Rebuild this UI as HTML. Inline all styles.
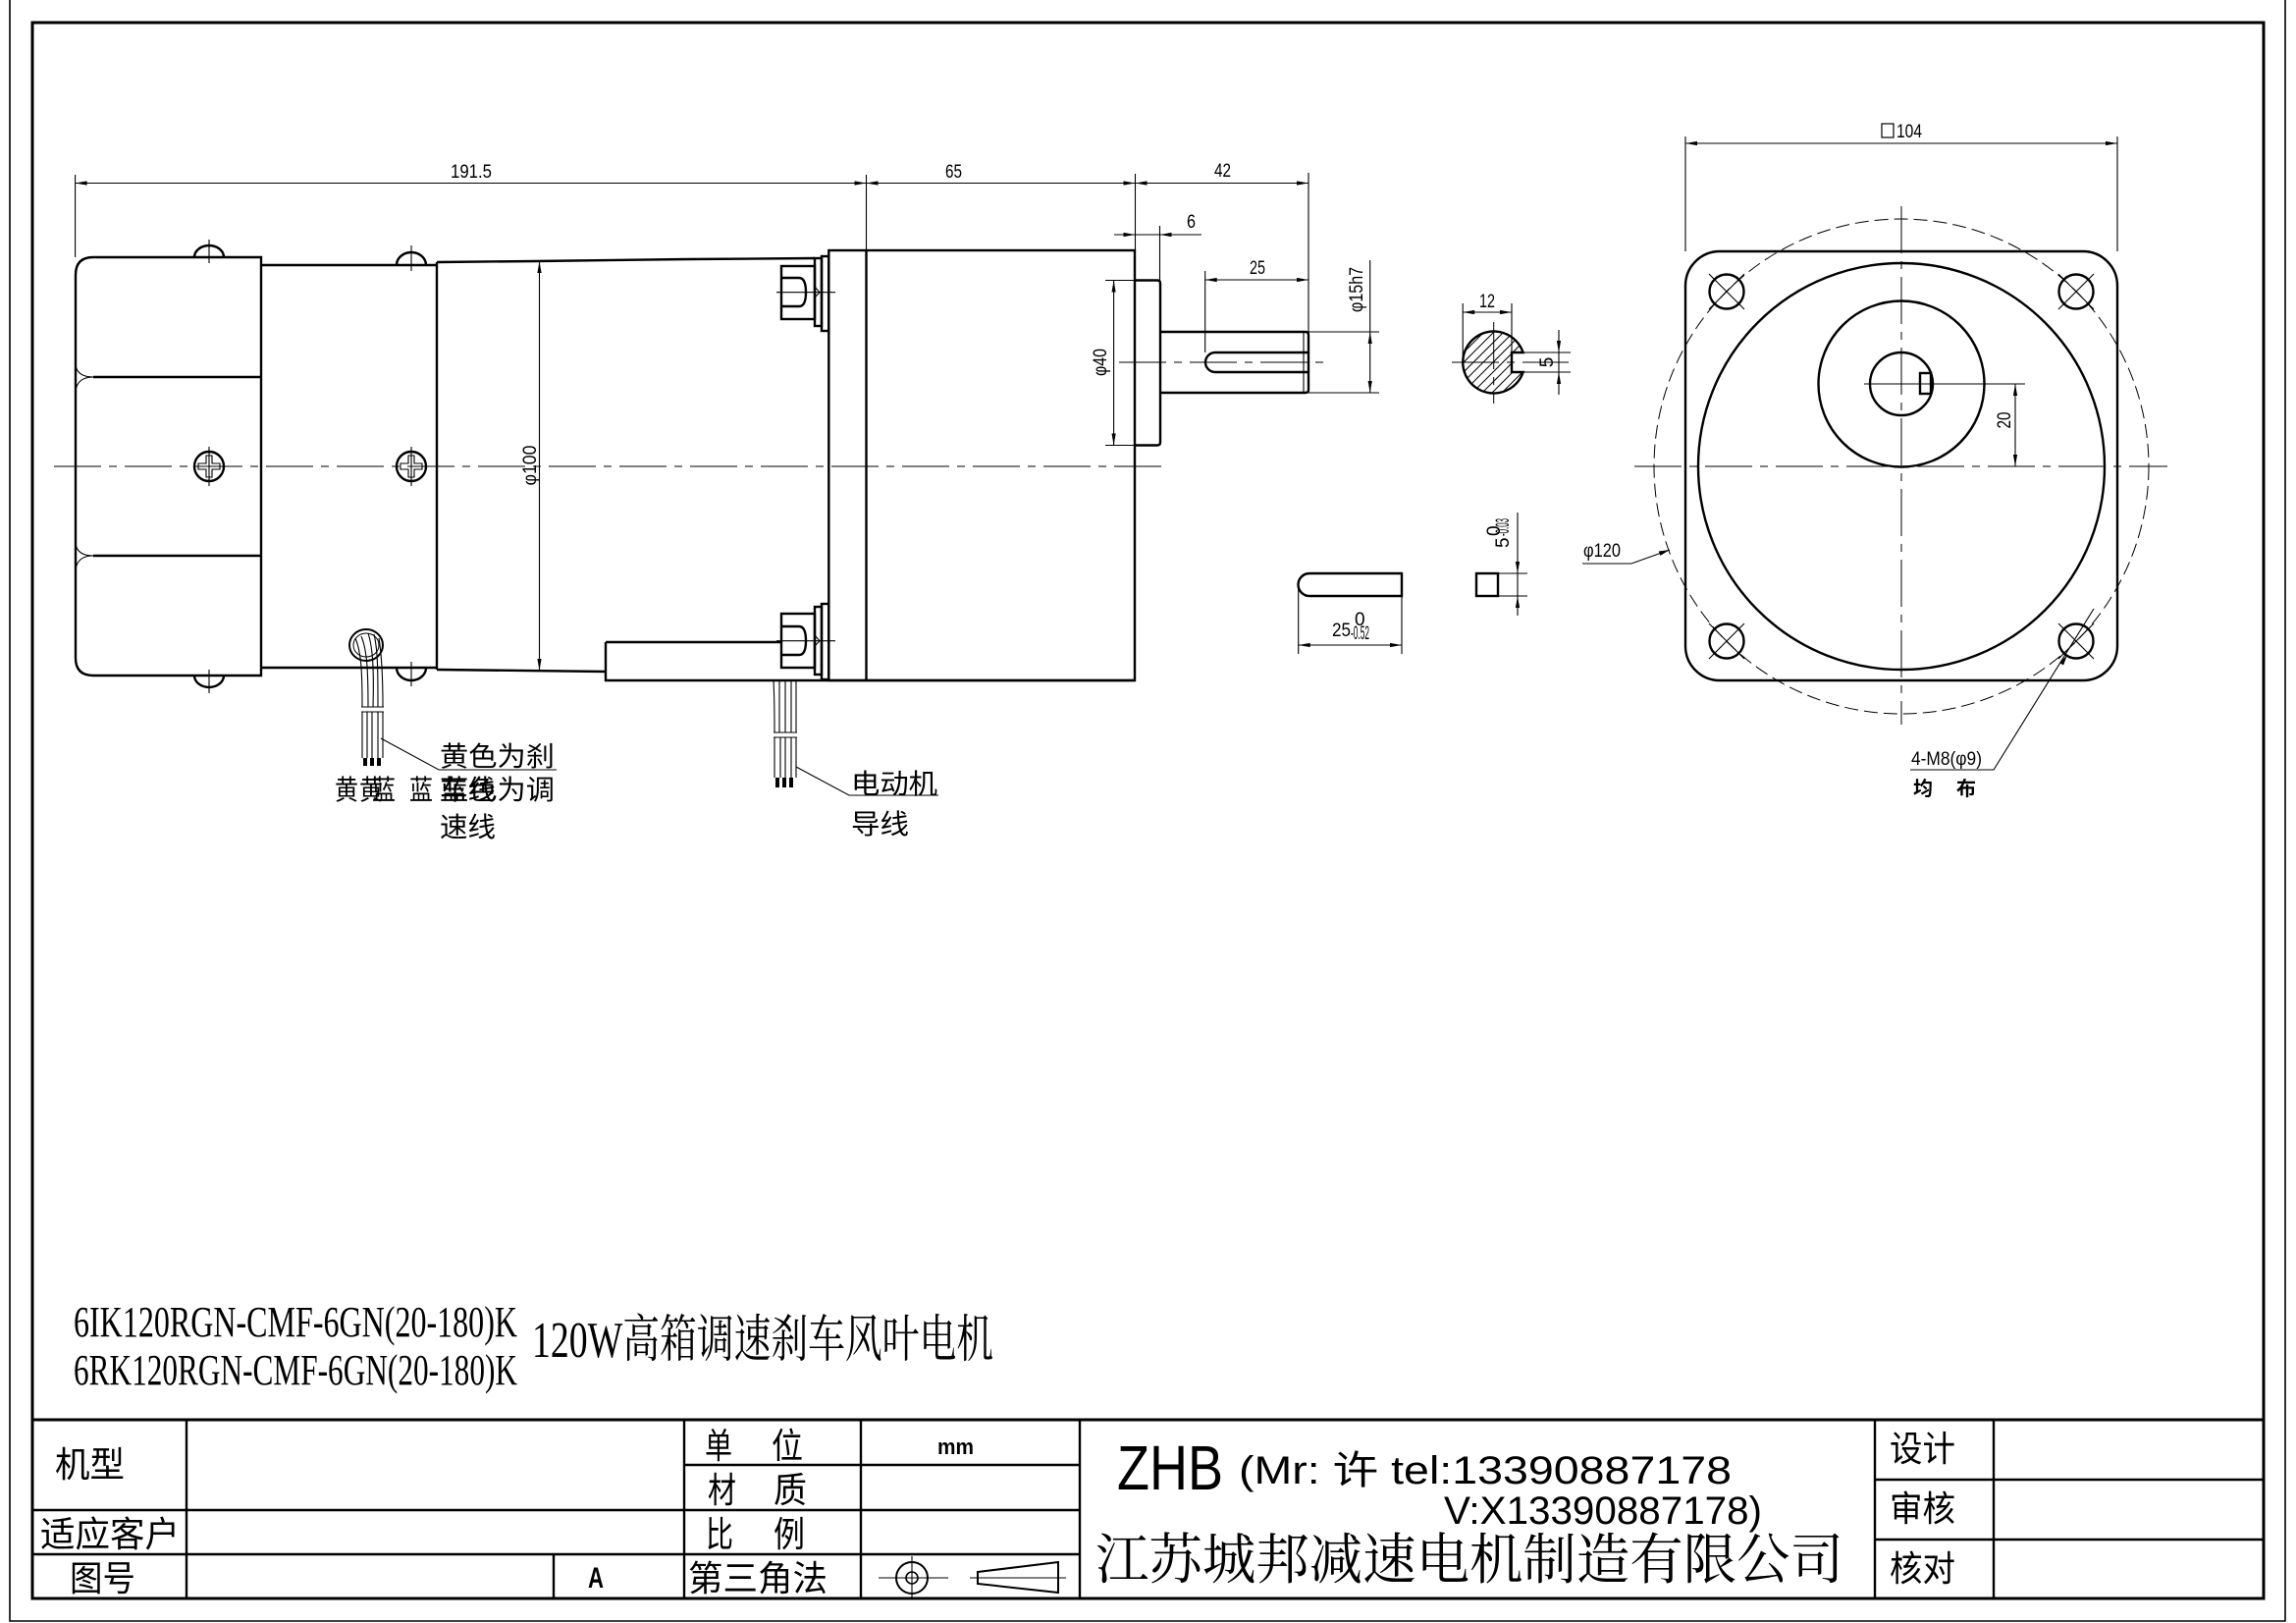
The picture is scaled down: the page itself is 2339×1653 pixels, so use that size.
<!DOCTYPE html>
<html><head><meta charset="utf-8"><style>
html,body{margin:0;padding:0;background:#fff;}
svg{display:block;}
.o{fill:none;stroke:#000;stroke-width:2.4;}
.t{fill:none;stroke:#000;stroke-width:1.1;}
.c{fill:none;stroke:#000;stroke-width:1;stroke-dasharray:48 8 8 8;}
.a{fill:#000;stroke:none;}
.d{font-family:"Liberation Sans",sans-serif;font-size:19px;fill:#000;}
.k{font-family:"Liberation Sans","Noto Sans CJK SC",sans-serif;fill:#000;}
.s{font-family:"Liberation Serif","Noto Serif CJK SC",serif;fill:#000;}
</style></head><body>
<svg width="2339" height="1653" viewBox="0 0 2339 1653" xmlns="http://www.w3.org/2000/svg">
<rect x="0" y="0" width="2339" height="1653" fill="#fff"/>
<!-- frames -->
<path d="M10,0 V1651 H2328 V0" fill="none" stroke="#000" stroke-width="1.6"/>
<rect x="33" y="23" width="2273" height="1605" fill="none" stroke="#000" stroke-width="3"/>

<!-- ===== SIDE VIEW ===== -->
<line class="c" x1="55" y1="475" x2="1185" y2="475"/>
<!-- fan cover -->
<path class="o" d="M95,262 H266 V688 H95 Q77,688 77,670 V280 Q77,262 95,262 Z"/>
<line class="o" x1="95" y1="384" x2="266" y2="384"/>
<line class="o" x1="95" y1="566" x2="266" y2="566"/>
<path class="t" stroke-width="1.8" d="M77,372 Q79,384 95,384 Q79,384 77,398"/>
<path class="t" stroke-width="1.8" d="M77,554 Q79,566 95,566 Q79,566 77,580"/>
<path class="o" stroke-width="2" d="M198,262 A15,12 0 0 1 228,262"/>
<path class="o" stroke-width="2" d="M198,688 A15,12 0 0 0 228,688"/>
<line class="t" x1="213" y1="244" x2="213" y2="268"/>
<line class="t" x1="213" y1="682" x2="213" y2="706"/>
<!-- section 2 -->
<path class="o" d="M266,270 H445 M266,680 H445"/>
<path class="o" stroke-width="2" d="M404,270 A15,13 0 0 1 434,270"/>
<path class="o" stroke-width="2" d="M404,680 A15,13 0 0 0 434,680"/>
<line class="t" x1="419" y1="250" x2="419" y2="276"/>
<line class="t" x1="419" y1="674" x2="419" y2="699"/>
<!-- center screws -->
<circle class="o" stroke-width="2" cx="213" cy="475" r="15"/>
<path class="t" stroke-width="1.5" d="M210,464 H216 V472 H224 V478 H216 V486 H210 V478 H202 V472 H210 Z"/>
<line class="t" x1="213" y1="455" x2="213" y2="495"/>
<circle class="o" stroke-width="2" cx="419" cy="475" r="15"/>
<path class="t" stroke-width="1.5" d="M416,464 H422 V472 H430 V478 H422 V486 H416 V478 H408 V472 H416 Z"/>
<line class="t" x1="419" y1="455" x2="419" y2="495"/>
<!-- main motor body -->
<path class="o" d="M445,267 L545,266 L700,264 L830,263"/>
<line class="o" x1="445" y1="267" x2="445" y2="682"/>
<path class="o" d="M445,682 L617,684"/>
<path class="o" d="M617,654 H796 M617,654 V693 H1156"/>
<!-- flange plates -->
<rect class="o" x="830" y="263" width="7" height="69"/>
<rect class="o" x="837" y="261" width="7.3" height="76"/>
<rect class="o" x="830" y="618" width="7" height="69"/>
<rect class="o" x="837" y="615" width="7.3" height="77"/>
<!-- bolts -->
<rect class="o" x="796" y="271" width="34" height="54"/>
<path class="o" stroke-width="1.8" d="M796,283 H814 Q821,283 821,297.7 Q821,312 814,312 H796"/>
<line class="t" x1="791" y1="297.7" x2="851" y2="297.7"/>
<path class="t" d="M830,292 L835,297.7 L830,303"/>
<rect class="o" x="796" y="625" width="34" height="55"/>
<path class="o" stroke-width="1.8" d="M796,638 H814 Q821,638 821,652.7 Q821,667 814,667 H796"/>
<line class="t" x1="791" y1="652.7" x2="851" y2="652.7"/>
<path class="t" d="M830,647 L835,652.7 L830,658"/>
<!-- gearbox -->
<rect class="o" x="844.3" y="255" width="311.7" height="438"/>
<line class="o" stroke-width="1.8" x1="882.5" y1="255" x2="882.5" y2="693"/>
<!-- pilot & shaft -->
<path class="o" d="M1156,285.5 H1179 Q1182,285.5 1182,288.5 V450.5 Q1182,453.5 1179,453.5 H1156"/>
<path class="o" d="M1182,338 H1330 Q1333,338 1333,341 V397 Q1333,400 1330,400 H1182"/>
<line class="t" x1="1328" y1="338" x2="1328" y2="400"/>
<path class="o" stroke-width="2" d="M1333,359 H1238 A10,10 0 0 0 1238,379 H1333"/>
<line class="c" x1="1140" y1="369" x2="1350" y2="369"/>

<!-- dimensions side view -->
<line class="t" x1="76.6" y1="178" x2="76.6" y2="262"/>
<line class="t" x1="882.5" y1="178" x2="882.5" y2="255"/>
<line class="t" x1="1156.5" y1="177" x2="1156.5" y2="255"/>
<line class="t" x1="1333" y1="176" x2="1333" y2="338"/>
<line class="t" x1="76.6" y1="186.5" x2="1333" y2="186.5"/>
<polygon class="a" points="76.6,186.5 88.6,184.4 88.6,188.6"/>
<polygon class="a" points="882.5,186.5 870.5,184.4 870.5,188.6"/>
<polygon class="a" points="882.5,186.5 894.5,184.4 894.5,188.6"/>
<polygon class="a" points="1156.5,186.5 1144.5,184.4 1144.5,188.6"/>
<polygon class="a" points="1156.5,186.5 1168.5,184.4 1168.5,188.6"/>
<polygon class="a" points="1333,186.5 1321,184.4 1321,188.6"/>
<text class="d" x="459" y="181" textLength="42" lengthAdjust="spacingAndGlyphs">191.5</text>
<text class="d" x="963" y="181" textLength="17" lengthAdjust="spacingAndGlyphs">65</text>
<text class="d" x="1237" y="180" textLength="17" lengthAdjust="spacingAndGlyphs">42</text>
<!-- 6 -->
<line class="t" x1="1135" y1="239" x2="1224" y2="239"/>
<line class="t" x1="1181.5" y1="230" x2="1181.5" y2="286"/>
<polygon class="a" points="1156.5,239 1144.5,236.9 1144.5,241.1"/>
<polygon class="a" points="1181.5,239 1193.5,236.9 1193.5,241.1"/>
<text class="d" x="1209" y="232" textLength="9" lengthAdjust="spacingAndGlyphs">6</text>
<!-- 25 -->
<line class="t" x1="1227.7" y1="276" x2="1227.7" y2="359"/>
<line class="t" x1="1227.7" y1="285" x2="1333" y2="285"/>
<polygon class="a" points="1227.7,285 1239.7,282.9 1239.7,287.1"/>
<polygon class="a" points="1333,285 1321,282.9 1321,287.1"/>
<text class="d" x="1273" y="279" textLength="16" lengthAdjust="spacingAndGlyphs">25</text>
<!-- phi15h7 -->
<line class="t" x1="1333" y1="338" x2="1405" y2="338"/>
<line class="t" x1="1333" y1="400" x2="1405" y2="400"/>
<line class="t" x1="1395.7" y1="265" x2="1395.7" y2="400"/>
<polygon class="a" points="1395.7,338 1393.6,350 1397.8,350"/>
<polygon class="a" points="1395.7,400 1393.6,388 1397.8,388"/>
<text class="d" font-size="18" text-anchor="middle" transform="translate(1388,295) rotate(-90)" textLength="46" lengthAdjust="spacingAndGlyphs">φ15h7</text>
<!-- phi40 -->
<line class="t" x1="1126" y1="285.5" x2="1156" y2="285.5"/>
<line class="t" x1="1126" y1="453.5" x2="1156" y2="453.5"/>
<line class="t" x1="1134.6" y1="285.5" x2="1134.6" y2="453.5"/>
<polygon class="a" points="1134.6,285.5 1132.5,297.5 1136.7,297.5"/>
<polygon class="a" points="1134.6,453.5 1132.5,441.5 1136.7,441.5"/>
<text class="d" text-anchor="middle" transform="translate(1127,369) rotate(-90)" textLength="28" lengthAdjust="spacingAndGlyphs">φ40</text>
<!-- phi100 -->
<line class="t" x1="549.5" y1="266" x2="549.5" y2="683"/>
<polygon class="a" points="549.5,266 547.4,278 551.6,278"/>
<polygon class="a" points="549.5,683 547.4,671 551.6,671"/>
<text class="d" text-anchor="middle" transform="translate(546,474) rotate(-90)" textLength="41" lengthAdjust="spacingAndGlyphs">φ100</text>

<!-- section of shaft -->
<defs><clipPath id="sec"><path d="M1551.6,359 A31.5,31.5 0 1 0 1551.6,379 L1540,379 L1540,359 Z"/></clipPath></defs>
<g clip-path="url(#sec)" stroke="#000" stroke-width="1">
<line x1="1416" y1="414" x2="1506" y2="324"/><line x1="1426" y1="414" x2="1516" y2="324"/>
<line x1="1436" y1="414" x2="1526" y2="324"/><line x1="1446" y1="414" x2="1536" y2="324"/>
<line x1="1456" y1="414" x2="1546" y2="324"/><line x1="1466" y1="414" x2="1556" y2="324"/>
<line x1="1476" y1="414" x2="1566" y2="324"/><line x1="1486" y1="414" x2="1576" y2="324"/>
<line x1="1496" y1="414" x2="1586" y2="324"/><line x1="1506" y1="414" x2="1596" y2="324"/>
<line x1="1516" y1="414" x2="1606" y2="324"/><line x1="1526" y1="414" x2="1616" y2="324"/>
<line x1="1536" y1="414" x2="1626" y2="324"/>
</g>
<path class="o" d="M1551.6,359 A31.5,31.5 0 1 0 1551.6,379 L1540,379 L1540,359 Z"/>
<line class="c" stroke-dasharray="30 5 5 5" x1="1479" y1="369" x2="1598" y2="369"/>
<line class="c" stroke-dasharray="30 5 5 5" x1="1521.7" y1="328" x2="1521.7" y2="411"/>
<!-- 12 -->
<line class="t" x1="1490.2" y1="309" x2="1490.2" y2="369"/>
<line class="t" x1="1540" y1="309" x2="1540" y2="359"/>
<line class="t" x1="1490.2" y1="318" x2="1540" y2="318"/>
<polygon class="a" points="1490.2,318 1502.2,315.9 1502.2,320.1"/>
<polygon class="a" points="1540,318 1528,315.9 1528,320.1"/>
<text class="d" x="1507" y="313" textLength="16" lengthAdjust="spacingAndGlyphs">12</text>
<!-- 5 -->
<line class="t" x1="1551" y1="359" x2="1600" y2="359"/>
<line class="t" x1="1551" y1="379" x2="1600" y2="379"/>
<line class="t" x1="1588" y1="336" x2="1588" y2="402"/>
<polygon class="a" points="1588,359 1585.9,347 1590.1,347"/>
<polygon class="a" points="1588,379 1585.9,391 1590.1,391"/>
<text class="d" text-anchor="middle" transform="translate(1582,369) rotate(-90)">5</text>

<!-- key side -->
<path class="o" d="M1428,584 H1334 A11.5,11.5 0 0 0 1334,607 H1428 Z"/>
<line class="t" x1="1322.7" y1="596" x2="1322.7" y2="666"/>
<line class="t" x1="1428" y1="607" x2="1428" y2="666"/>
<line class="t" x1="1322.7" y1="657" x2="1428" y2="657"/>
<polygon class="a" points="1322.7,657 1334.7,654.9 1334.7,659.1"/>
<polygon class="a" points="1428,657 1416,654.9 1416,659.1"/>
<text class="d" x="1357" y="648" textLength="19" lengthAdjust="spacingAndGlyphs">25</text>
<text class="d" x="1380" y="637" font-size="10">0</text>
<text class="d" x="1376" y="651" font-size="10" textLength="19" lengthAdjust="spacingAndGlyphs">-0.52</text>
<!-- key section -->
<rect class="o" x="1504" y="584" width="22" height="23"/>
<line class="t" x1="1526" y1="584" x2="1556" y2="584"/>
<line class="t" x1="1526" y1="607" x2="1556" y2="607"/>
<line class="t" x1="1546" y1="522" x2="1546" y2="627"/>
<polygon class="a" points="1546,584 1543.9,572 1548.1,572"/>
<polygon class="a" points="1546,607 1543.9,619 1548.1,619"/>
<g transform="translate(1537,558) rotate(-90)">
<text class="d" x="0" y="0">5</text>
<text class="d" x="12" y="-9" font-size="9">0</text>
<text class="d" x="12" y="0" font-size="9" textLength="18" lengthAdjust="spacingAndGlyphs">-0.03</text>
</g>

<!-- ===== FRONT VIEW ===== -->
<line class="t" x1="1717" y1="139" x2="1717" y2="256"/>
<line class="t" x1="2157" y1="139" x2="2157" y2="256"/>
<line class="t" x1="1717" y1="146" x2="2157" y2="146"/>
<polygon class="a" points="1717,146 1729,143.9 1729,148.1"/>
<polygon class="a" points="2157,146 2145,143.9 2145,148.1"/>
<rect x="1917" y="126" width="12" height="14" fill="none" stroke="#000" stroke-width="1.2"/>
<text class="d" x="1932" y="140" font-size="18" textLength="26" lengthAdjust="spacingAndGlyphs">104</text>
<rect class="o" x="1717" y="256" width="440" height="437" rx="35" ry="35"/>
<circle class="o" cx="1937" cy="475" r="207"/>
<circle class="o" cx="1937" cy="391" r="84.5"/>
<circle class="o" cx="1937" cy="391" r="32"/>
<rect class="o" stroke-width="1.8" x="1956" y="380" width="11" height="21"/>
<line class="t" x1="1899" y1="391" x2="2063" y2="391"/>
<line class="c" x1="1665" y1="475" x2="2208" y2="475"/>
<line class="c" x1="1937" y1="210" x2="1937" y2="738"/>
<circle cx="1937" cy="475" r="252" fill="none" stroke="#000" stroke-width="1" stroke-dasharray="14 6"/>
<!-- 20 -->
<line class="t" x1="2053" y1="391" x2="2053" y2="475"/>
<polygon class="a" points="2053,391 2050.9,403 2055.1,403"/>
<polygon class="a" points="2053,475 2050.9,463 2055.1,463"/>
<text class="d" font-size="21" text-anchor="middle" transform="translate(2048,428) rotate(-90)" textLength="17" lengthAdjust="spacingAndGlyphs">20</text>
<!-- holes -->
<g>
<circle class="o" stroke-width="2" cx="1759" cy="297" r="17.5"/>
<circle class="o" stroke-width="2" cx="2115" cy="297" r="17.5"/>
<circle class="o" stroke-width="2" cx="1759" cy="653" r="17.5"/>
<circle class="o" stroke-width="2" cx="2115" cy="653" r="17.5"/>
<path class="t" stroke-width="0.9" d="M1741,279 L1777,315 M1777,279 L1741,315 M2097,279 L2133,315 M2133,279 L2097,315 M1741,635 L1777,671 M1777,635 L1741,671 M2097,635 L2133,671 M2133,635 L2097,671"/>
</g>
<!-- phi120 leader -->
<text class="d" x="1613" y="567" textLength="38" lengthAdjust="spacingAndGlyphs">φ120</text>
<path class="t" d="M1612,574 H1662 L1701,560"/>
<polygon class="a" points="1701,560 1691.4,565.9 1689.8,561.5"/>
<!-- 4-M8 leader -->
<path class="t" d="M1946,784 H2031 L2133,620"/>
<polygon class="a" points="2106,667 2102.1,677.5 2098.2,675.1"/>
<text class="d" x="1947" y="779" textLength="72" lengthAdjust="spacingAndGlyphs">4-M8(φ9)</text>
<text class="k" x="1949" y="810" font-size="20" font-weight="bold">均</text>
<text class="k" x="1993" y="810" font-size="20" font-weight="bold">布</text>

<!-- ===== wires & labels ===== -->
<!-- brake lead -->
<ellipse cx="373" cy="657" rx="17" ry="16" fill="none" stroke="#000" stroke-width="2"/>
<ellipse cx="373" cy="657" rx="13" ry="12" fill="none" stroke="#000" stroke-width="1"/>
<path class="t" stroke-width="1.8" d="M362,650 C368,664 369,684 369,720 M386,650 C389,668 390,690 390,720"/>
<path class="t" d="M368,648 C374,662 375,684 375,720 M375,645 C380,660 381,684 380,720 M381,646 C385,662 385,686 385,720"/>
<path class="t" stroke-width="1.6" d="M368,720 H391 M368,725 H391"/>
<path class="t" stroke-width="1.8" d="M369,725 V772 M390,725 V772"/>
<path class="t" d="M374,725 V772 M379,725 V772 M385,725 V772"/>
<rect x="370" y="772" width="4" height="8" fill="#000"/>
<rect x="377" y="772" width="4" height="8" fill="#000"/>
<rect x="384" y="772" width="4" height="8" fill="#000"/>
<path class="t" d="M388,752 L447,784 H567"/>
<g class="k" font-size="28">
<text x="448" y="780" textLength="117" lengthAdjust="spacingAndGlyphs">黄色为刹</text>
<text x="448" y="814" textLength="57" lengthAdjust="spacingAndGlyphs">车线</text>
<text x="448" y="814" textLength="117" lengthAdjust="spacingAndGlyphs">蓝色为调</text>
<text x="448" y="852" textLength="57" lengthAdjust="spacingAndGlyphs">速线</text>
<text x="341" y="814" textLength="24" lengthAdjust="spacingAndGlyphs">黄</text>
<text x="366" y="814" textLength="24" lengthAdjust="spacingAndGlyphs">黄</text>
<text x="379" y="814" textLength="24" lengthAdjust="spacingAndGlyphs">蓝</text>
<text x="417" y="814" textLength="24" lengthAdjust="spacingAndGlyphs">蓝</text>
<text x="867" y="808" textLength="88" lengthAdjust="spacingAndGlyphs">电动机</text>
<text x="867" y="849" textLength="59" lengthAdjust="spacingAndGlyphs">导线</text>
</g>
<!-- motor lead -->
<path class="t" stroke-width="1.8" d="M788,694 C789,710 789,730 789,746 M811,694 C811,712 811,730 811,746"/>
<path class="t" d="M794,694 V746 M800,694 V746 M806,694 V746"/>
<path class="t" stroke-width="1.6" d="M788,746 H812 M788,751 H812"/>
<path class="t" stroke-width="1.8" d="M789,751 V792 M811,751 V792"/>
<path class="t" d="M795,751 V792 M800,751 V792 M806,751 V792"/>
<rect x="790" y="792" width="4" height="10" fill="#000"/>
<rect x="797" y="792" width="4" height="10" fill="#000"/>
<rect x="804" y="792" width="4" height="10" fill="#000"/>
<path class="t" d="M811,781 L865,810 H956"/>

<!-- ===== title text ===== -->
<text class="s" x="75" y="1361" font-size="44" textLength="452" lengthAdjust="spacingAndGlyphs">6IK120RGN-CMF-6GN(20-180)K</text>
<text class="s" x="75" y="1410" font-size="44" textLength="452" lengthAdjust="spacingAndGlyphs">6RK120RGN-CMF-6GN(20-180)K</text>
<text class="s" x="542" y="1382" font-size="52" textLength="470" lengthAdjust="spacingAndGlyphs">120W高箱调速刹车风叶电机</text>

<!-- ===== title block ===== -->
<line x1="33" y1="1446" x2="2306" y2="1446" stroke="#000" stroke-width="3"/>
<g stroke="#000" stroke-width="2.4">
<line x1="190" y1="1446" x2="190" y2="1628"/>
<line x1="564" y1="1583" x2="564" y2="1628"/>
<line x1="697" y1="1446" x2="697" y2="1628"/>
<line x1="877" y1="1446" x2="877" y2="1628"/>
<line x1="1100" y1="1446" x2="1100" y2="1628"/>
<line x1="1910" y1="1446" x2="1910" y2="1628"/>
<line x1="2031" y1="1446" x2="2031" y2="1628"/>
<line x1="697" y1="1492" x2="1100" y2="1492"/>
<line x1="33" y1="1538" x2="1100" y2="1538"/>
<line x1="33" y1="1583" x2="1100" y2="1583"/>
<line x1="1910" y1="1507" x2="2306" y2="1507"/>
<line x1="1910" y1="1568" x2="2306" y2="1568"/>
</g>
<g class="k" font-size="36">
<text x="56" y="1504" textLength="71" lengthAdjust="spacingAndGlyphs">机型</text>
<text x="41" y="1575" textLength="142" lengthAdjust="spacingAndGlyphs">适应客户</text>
<text x="71" y="1620" textLength="67" lengthAdjust="spacingAndGlyphs">图号</text>
<text x="718" y="1485" textLength="28" lengthAdjust="spacingAndGlyphs">单</text>
<text x="786" y="1485" textLength="32" lengthAdjust="spacingAndGlyphs">位</text>
<text x="721" y="1530" textLength="29" lengthAdjust="spacingAndGlyphs">材</text>
<text x="788" y="1530" textLength="34" lengthAdjust="spacingAndGlyphs">质</text>
<text x="719" y="1575" textLength="28" lengthAdjust="spacingAndGlyphs">比</text>
<text x="788" y="1575" textLength="32" lengthAdjust="spacingAndGlyphs">例</text>
<text x="701" y="1620" textLength="142" lengthAdjust="spacingAndGlyphs">第三角法</text>
<text x="1925" y="1488" textLength="67" lengthAdjust="spacingAndGlyphs">设计</text>
<text x="1925" y="1549" textLength="67" lengthAdjust="spacingAndGlyphs">审核</text>
<text x="1925" y="1610" textLength="67" lengthAdjust="spacingAndGlyphs">核对</text>
</g>
<text class="k" x="599" y="1617" font-size="30" font-weight="bold" textLength="16" lengthAdjust="spacingAndGlyphs">A</text>
<text class="k" x="955" y="1481" font-size="22" font-weight="bold" textLength="37" lengthAdjust="spacingAndGlyphs">mm</text>
<!-- projection symbol -->
<circle cx="929" cy="1607" r="16" fill="none" stroke="#000" stroke-width="2"/>
<circle cx="929" cy="1607" r="6" fill="none" stroke="#000" stroke-width="1.6"/>
<line class="t" stroke-width="1.6" x1="895" y1="1607" x2="966" y2="1607"/>
<line class="t" stroke-width="1.6" x1="929" y1="1585" x2="929" y2="1628"/>
<polygon points="996,1601 1078,1591 1078,1622 996,1613" fill="none" stroke="#000" stroke-width="2"/>
<line class="t" stroke-width="1.6" x1="988" y1="1607" x2="1086" y2="1607"/>
<!-- company -->
<text class="k" x="1138" y="1517" font-size="64" textLength="108" lengthAdjust="spacingAndGlyphs">ZHB</text>
<text class="k" x="1262" y="1511" font-size="40" textLength="502" lengthAdjust="spacingAndGlyphs">(Mr: 许 tel:13390887178</text>
<text class="k" x="1471" y="1552" font-size="40" textLength="324" lengthAdjust="spacingAndGlyphs">V:X13390887178)</text>
<text class="s" x="1116" y="1608" font-size="56" textLength="762" lengthAdjust="spacingAndGlyphs">江苏城邦减速电机制造有限公司</text>
</svg>
</body></html>
